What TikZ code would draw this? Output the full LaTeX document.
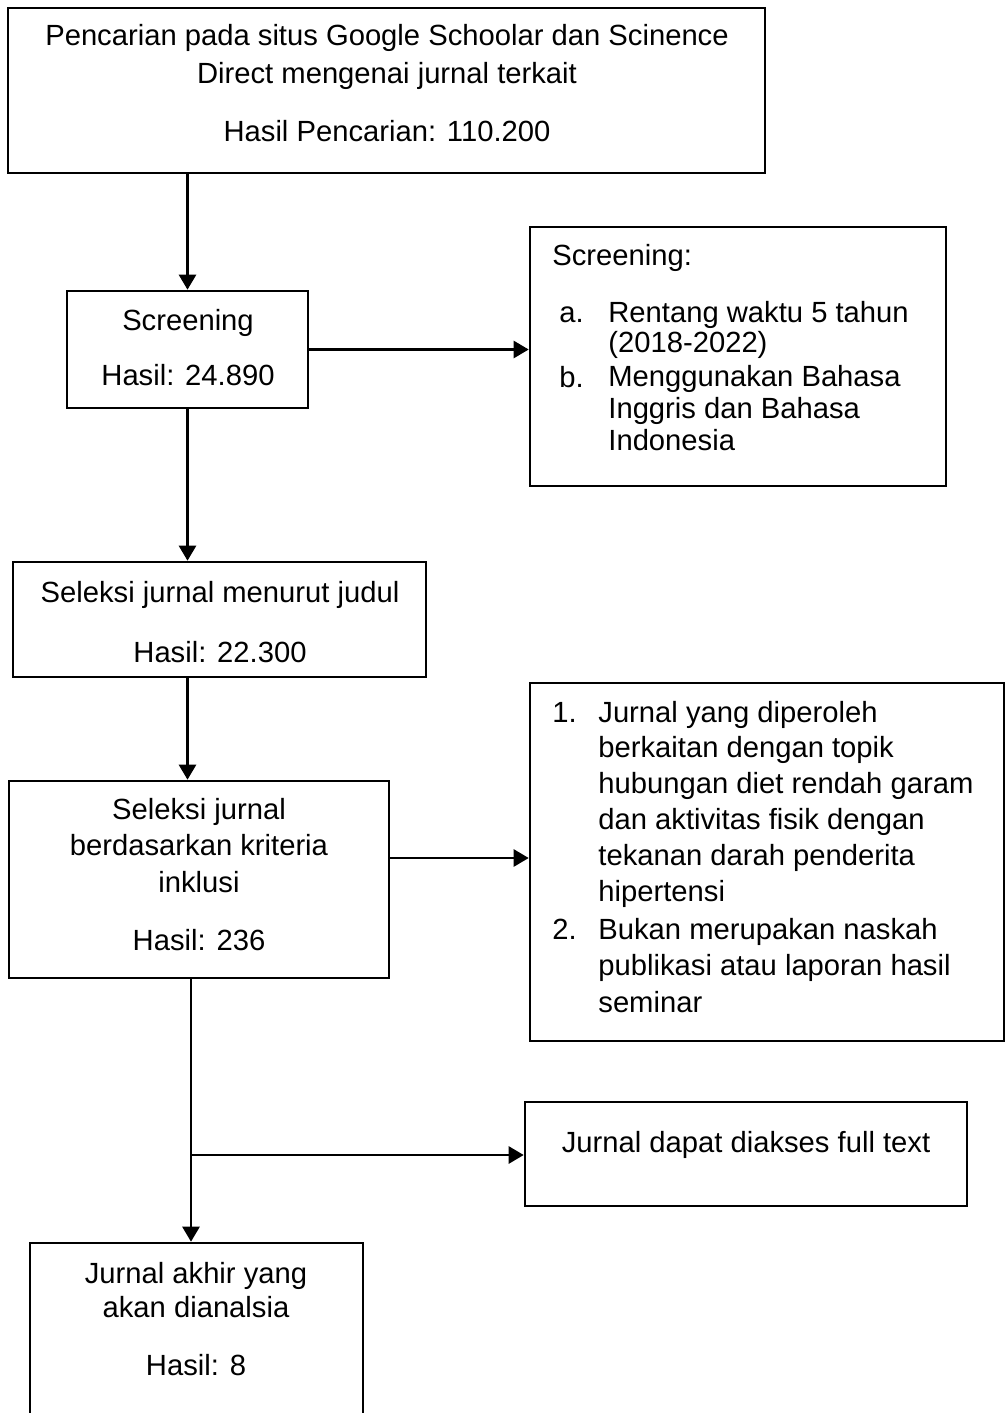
\documentclass[tikz,border=0pt]{standalone}
\usepackage{fontspec}
\setmainfont{Liberation Sans}
\usetikzlibrary{arrows.meta,fit,positioning}
\tikzset{
  kotak/.style={draw, line width=1.3pt, inner sep=0pt},
  teks/.style={font=\fontsize{14.6}{17.5}\selectfont, inner sep=0pt, align=center, anchor=base},
  daftar/.style={teks, align=left, anchor=base west},
  panah/.style={-{Triangle[length=7.5pt,width=8.5pt]}, line width=1.3pt}
}
\begin{document}
\begin{tikzpicture}[x=0.5pt,y=-0.5pt]
    \useasboundingbox (0,0) rectangle (1006,1413);
    \clip (0,0) rectangle (1006,1413);

    \node[kotak, fit={(8,8) (765,173)}] (v1) {};
    \node[kotak, fit={(67,291) (308,408)}] (v2) {};
    \node[kotak, fit={(530,227) (946,486)}] (v3) {};
    \node[kotak, fit={(13,562) (426,677)}] (v4) {};
    \node[kotak, fit={(9,781) (389,978)}] (v5) {};
    \node[kotak, fit={(530,683) (1004,1041)}] (v6) {};
    \node[kotak, fit={(525,1102) (967,1206)}] (v7) {};
    \node[kotak, fit={(30,1243) (363,1430)}] (v8) {};

    % multi-line texts sit on the baseline of their last line
    \node[teks, font=\fontsize{14.6}{19}\selectfont] (t1) at (387,84) {Pencarian pada situs Google Schoolar dan Scinence\\Direct mengenai jurnal terkait};
    \node[teks] (t2) at (387,141) {Hasil Pencarian: 110.200};
    \node[teks] (t3) at (188,330) {Screening};
    \node[teks] (t4) at (188,385) {Hasil: 24.890};
    \node[daftar] (t5) at (552,265) {Screening:};
    \node[daftar] (t6) at (559,322) {a.};
    \node[daftar, font=\fontsize{14.6}{15}\selectfont] (t7) at (608,352) {Rentang waktu 5 tahun\\(2018-2022)};
    \node[daftar] (t8) at (559,387) {b.};
    \node[daftar, font=\fontsize{14.6}{15.8}\selectfont] (t9) at (608,450) {Menggunakan Bahasa\\Inggris dan Bahasa\\Indonesia};
    \node[teks] (t10) at (220,602) {Seleksi jurnal menurut judul};
    \node[teks] (t11) at (220,662) {Hasil: 22.300};
    \node[teks, font=\fontsize{14.6}{18.2}\selectfont] (t12) at (199,892) {Seleksi jurnal\\berdasarkan kriteria\\inklusi};
    \node[teks] (t13) at (199,950) {Hasil: 236};
    \node[daftar] (t14) at (552,722) {1.};
    \node[daftar, font=\fontsize{14.6}{17.9}\selectfont] (t15) at (598,901) {Jurnal yang diperoleh\\berkaitan dengan topik\\hubungan diet rendah garam\\dan aktivitas fisik dengan\\tekanan darah penderita\\hipertensi};
    \node[daftar] (t16) at (552,939) {2.};
    \node[daftar, font=\fontsize{14.6}{18.2}\selectfont] (t17) at (598,1012) {Bukan merupakan naskah\\publikasi atau laporan hasil\\seminar};
    \node[teks] (t18) at (746,1152) {Jurnal dapat diakses full text};
    \node[teks, font=\fontsize{14.6}{17}\selectfont] (t19) at (196,1317) {Jurnal akhir yang\\akan dianalsia};
    \node[teks] (t20) at (196,1375) {Hasil: 8};

    \coordinate (c1) at (389,858);
    \coordinate (c2) at (191,1155);

    \draw[panah] (v1.south -| v2.north) -- (v2.north);
    \draw[panah] (v2.east) -- (v2.east -| v3.west);
    \draw[panah] (v2.south) -- (v2.south |- v4.north);
    \draw[panah] (v4.south -| v2.south) -- (v5.north -| v2.south);
    \draw[panah] (c1) -- (c1 -| v6.west);
    \draw[panah] (v5.south -| c2) -- (v8.north -| c2);
    \draw[panah] (c2) -- (c2 -| v7.west);
\end{tikzpicture}
\end{document}
